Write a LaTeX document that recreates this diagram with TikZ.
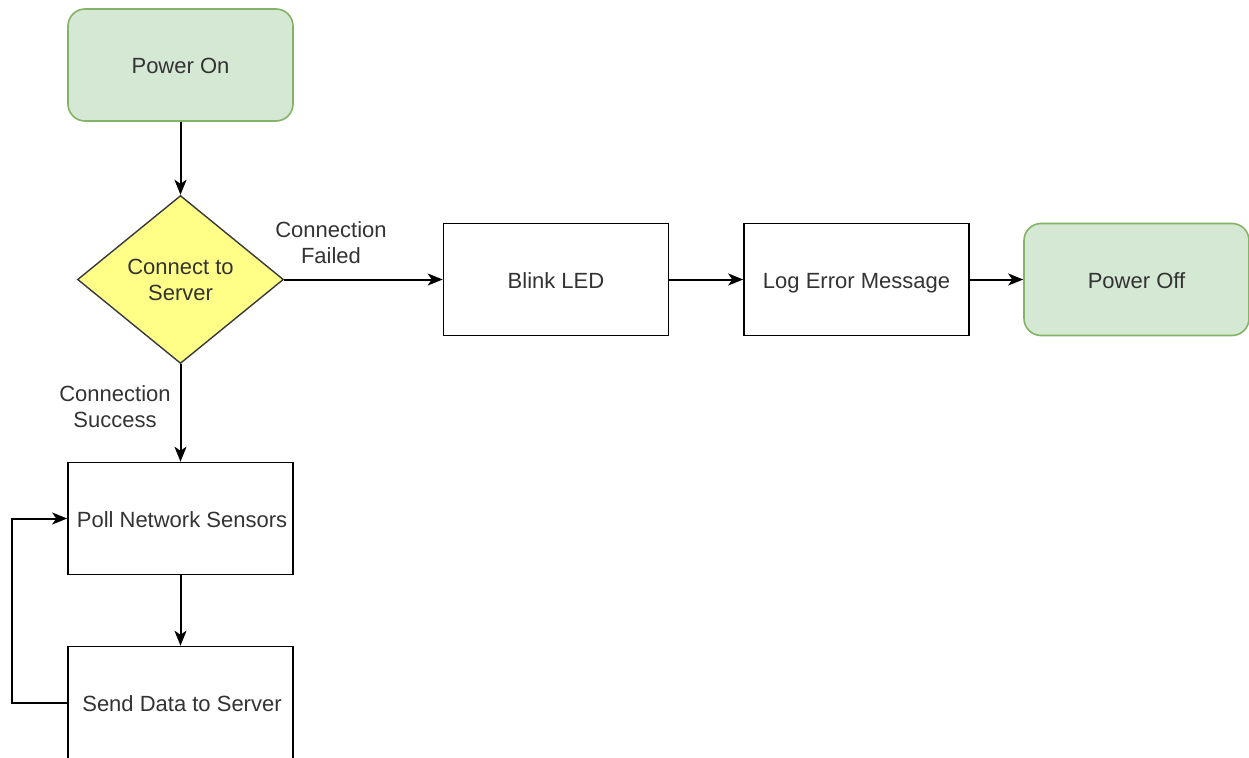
\documentclass[tikz,border=0pt]{standalone}
\usepackage{fontspec}
\setmainfont{Liberation Sans}
\usetikzlibrary{shapes.geometric,arrows.meta}
\definecolor{termfill}{HTML}{D5E8D4}
\definecolor{termdraw}{HTML}{82B366}
\definecolor{decfill}{HTML}{FFFF88}
\definecolor{decdraw}{HTML}{36393D}
\definecolor{txt}{HTML}{333333}
\begin{document}
\begin{tikzpicture}[x=1pt,y=-1pt,
  every node/.style={font=\fontsize{22}{26}\selectfont, text=txt, inner sep=0pt},
  fixt/.style={text height=18pt, text depth=0pt},
  terminal/.style={fixt, draw=termdraw, fill=termfill, line width=1.6pt, rounded corners=17pt,
    minimum width=225pt, minimum height=112pt},
  process/.style={fixt, draw=black, fill=white, line width=1.6pt, minimum width=225pt, minimum height=112pt},
  decision/.style={diamond, draw=decdraw, fill=decfill, line width=1.4pt,
    minimum width=206pt, minimum height=168pt, align=center},
  conn/.style={draw=black, line width=2pt, -{Stealth[length=15pt,width=12pt,inset=4pt]}},
  lbl/.style={align=center}
]
\useasboundingbox (0,0) rectangle (1249,757);
\node[terminal] (on) at (180.5,65) {Power On};
\node[decision] (dec) at (180.5,279.5) {Connect to\\Server};
\node[process] (blink) at (556,279.5) {Blink LED};
\node[process] (log) at (856.5,279.5) {Log Error Message};
\node[terminal] (off) at (1136.5,279.5) {Power Off};
\node[process] (poll) at (180.5,518.5) {};
\node[fixt] (polltxt) at (182,518.5) {Poll Network Sensors};
\node[process] (send) at (180.5,702.5) {};
\node[fixt] (sendtxt) at (182,702.5) {Send Data to Server};
\node[lbl] (lfail) at (331,243) {Connection\\Failed};
\node[lbl] (lsucc) at (115,407) {Connection\\Success};
\coordinate (loopc) at (12,702.5);

\draw[conn] (on) -- (dec);
\draw[conn] (dec.east) -- (blink.west);
\draw[conn] (blink) -- (log);
\draw[conn] (log) -- (off);
\draw[conn] (dec.south) -- (poll.north);
\draw[conn] (poll) -- (send);
\draw[conn] (send.west) -- (loopc) |- (poll.west);
\end{tikzpicture}
\end{document}
